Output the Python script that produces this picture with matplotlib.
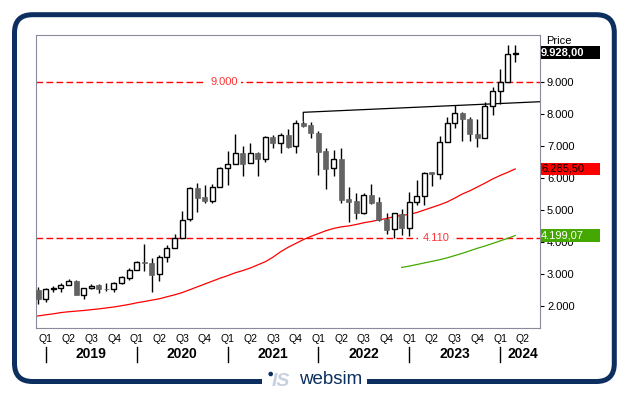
import matplotlib
matplotlib.use('Agg')
import matplotlib.pyplot as plt
from matplotlib import font_manager
from matplotlib.patches import FancyBboxPatch, Rectangle, Circle
from matplotlib.transforms import IdentityTransform, blended_transform_factory
from matplotlib.lines import Line2D

plt.rcParams['font.family'] = ['Liberation Sans', 'DejaVu Sans']
plt.rcParams['lines.scale_dashes'] = False

# ---------------- data (monthly candles, index 0 = Dec 2018) ----------------
opens = [2489, 2218, 2521, 2542, 2636, 2772, 2343, 2542, 2636, 2531,
         2531, 2698, 2876, 3116, 3378, 3346, 2989, 3533, 3795, 4129,
         4704, 5676, 5394, 5289, 5707, 6303, 6428, 6773, 6460, 6773,
         6595, 7275, 7107, 7348, 7003, 7724, 7661, 7400, 6846, 6303,
         6585, 5330, 5278, 4912, 5466, 5240, 4703, 4389, 4860, 4450,
         5258, 5446, 6177, 6114, 7138, 7733, 8026, 7848, 7368, 7242,
         8256, 8726, 9000, 9886]
highs = [2594, 2563, 2615, 2698, 2834, 2803, 2542, 2667, 2667, 2698,
         2730, 2918, 3169, 3399, 3930, 3500, 3574, 3888, 4250, 4965,
         5707, 5843, 5780, 5801, 6334, 6846, 7379, 7003, 7087, 6825,
         7316, 7348, 7400, 7525, 7818, 7797, 7745, 7484, 6950, 6877,
         6950, 5727, 5518, 5518, 5820, 5414, 4912, 4891, 5040, 5550,
         5950, 6177, 6177, 7316, 7900, 8287, 8078, 7921, 7848, 8392,
         8862, 9416, 10168, 10168]
lows = [2061, 2124, 2440, 2437, 2636, 2343, 2218, 2510, 2406, 2458,
        2427, 2667, 2803, 3116, 3100, 2437, 2780, 3376, 3795, 4129,
        4662, 4944, 5226, 5226, 5707, 5794, 6428, 6062, 6460, 6062,
        6501, 6930, 6773, 6930, 6773, 7588, 7264, 6094, 5644, 6062,
        5205, 4609, 4703, 4870, 5190, 4660, 4250, 4110, 4200, 4190,
        5160, 5140, 5740, 5957, 7138, 7556, 7170, 7170, 6981, 7242,
        7974, 8308, 9000, 9625]
closes = [2218, 2521, 2560, 2636, 2772, 2343, 2542, 2625, 2531, 2520,
          2698, 2887, 3116, 3357, 3326, 2960, 3532, 3794, 4108, 4683,
          5676, 5383, 5289, 5707, 6303, 6428, 6773, 6439, 6773, 6606,
          7275, 7107, 7348, 6982, 7714, 7640, 7400, 6825, 6282, 6585,
          5309, 5257, 4912, 5466, 5215, 4682, 4380, 4891, 4430, 5262,
          5446, 6170, 6114, 7138, 7733, 8026, 7838, 7368, 7242, 8256,
          8726, 8998, 9886, 9928]

# red moving average, index -1 .. 63
ma_red_start = -1
ma_red = [1650, 1680, 1715, 1745, 1785, 1810, 1830, 1850, 1875, 1900,
          1930, 1960, 2000, 2040, 2090, 2130, 2175, 2216, 2280, 2340,
          2410, 2500, 2590, 2680, 2770, 2860, 2940, 3030, 3100, 3180,
          3280, 3380, 3520, 3690, 3830, 3950, 4070, 4170, 4260, 4350,
          4420, 4470, 4500, 4545, 4600, 4640, 4690, 4730, 4790, 4830,
          4860, 4920, 5000, 5080, 5160, 5250, 5370, 5500, 5600, 5720,
          5840, 5970, 6080, 6180, 6285.5]
# green moving average, index 48 .. 63
ma_green_start = 48
ma_green = [3200, 3240, 3290, 3340, 3390, 3440, 3500, 3570, 3640, 3720,
            3800, 3870, 3950, 4030, 4110, 4199.07]

level_values = [9000, 4110]
level_texts = ['9.000', '4.110']
level_text_x = [24.5, 52.5]

trend_x = [35, 35, 66.3]
trend_y = [7797, 8060, 8392]

quarter_names = ['Q1', 'Q2', 'Q3', 'Q4']
quarter_first_index = 1          # Jan 2019
n_quarters = 22                  # Q1 2019 .. Q2 2024
years = ['2019', '2020', '2021', '2022', '2023', '2024']

last_values = [9928.00, 6285.50, 4199.07]
last_box_colors = ['#000000', '#ff0000', '#44a800']
last_text_colors = ['#ffffff', '#000000', '#ffffff']

y_ticks = [2000, 3000, 4000, 5000, 6000, 7000, 8000, 9000, 10000]

# ---------------- figure ----------------
W, H = 629, 395
fig = plt.figure(figsize=(W / 100, H / 100), dpi=100)
fig.patch.set_facecolor('white')

def fx(px):
    return px / W

def fy(py):
    return 1 - py / H

ax_left, ax_right, ax_top, ax_bottom = 35.7, 540.0, 34.7, 328.0
ax = fig.add_axes([fx(ax_left), fy(ax_bottom), fx(ax_right - ax_left),
                   (ax_bottom - ax_top) / H])
x_max = 66.27
ax.set_xlim(-0.34, x_max)
ax.set_ylim(1301, 10492)
for s in ax.spines.values():
    s.set_color('#8a8a9c')
    s.set_linewidth(0.8)

navy = '#0d2f60'

# candles
body_w = 0.66
for i, (o, h, l, c) in enumerate(zip(opens, highs, lows, closes)):
    ax.vlines(i, l, h, color='black', lw=1.0, zorder=3)
for i, (o, c) in enumerate(zip(opens, closes)):
    up = c >= o
    bottom = min(o, c)
    height = max(abs(c - o), 12)
    if up:
        ax.bar(i, height, width=body_w, bottom=bottom, facecolor='white',
               edgecolor='black', linewidth=1.0, zorder=4)
    else:
        ax.bar(i, height, width=body_w, bottom=bottom, facecolor='#636363',
               edgecolor='#636363', linewidth=0.5, zorder=4)

# moving averages
ax.plot(range(ma_red_start, ma_red_start + len(ma_red)), ma_red,
        color='#ff0000', lw=0.9, zorder=2)
ax.plot(range(ma_green_start, ma_green_start + len(ma_green)), ma_green,
        color='#44a800', lw=0.9, zorder=2)

# trend line
ax.plot(trend_x, trend_y, color='black', lw=0.9, zorder=2)

# horizontal levels
for v, t, tx in zip(level_values, level_texts, level_text_x):
    ax.axhline(v, color='#ff0000', lw=1.0, dashes=(4.8, 2.4), zorder=1)
    ax.text(tx, v, t, color='#ff3333', fontsize=8, ha='center', va='center',
            zorder=5, bbox=dict(boxstyle='square,pad=0.35', fc='white', ec='none'))

# right axis
ax.yaxis.tick_right()
ax.set_yticks(y_ticks)
ax.set_yticklabels([f"{v:,.0f}".replace(',', '.') for v in y_ticks])
ax.tick_params(axis='y', length=3, width=0.8, pad=2, labelsize=8, colors='black')
ax.set_xticks([])

fig.text(fx(546), fy(41), 'Price', fontsize=8, ha='left', va='center')

# last value boxes
bt = blended_transform_factory(fig.transFigure, ax.transData)
box_h = 12.8 / (ax_bottom - ax_top) * (10492 - 1301)
for v, bc, tc in zip(last_values, last_box_colors, last_text_colors):
    r = Rectangle((fx(540.7), v - box_h / 2), fx(600) - fx(540.7), box_h,
                  transform=bt, facecolor=bc, edgecolor='none', zorder=10,
                  clip_on=False)
    fig.add_artist(r)
    txt = f"{v:,.2f}".replace(',', 'X').replace('.', ',').replace('X', '.')
    fig.text(fx(541), v, txt, transform=bt, color=tc, fontsize=8,
             fontweight='bold' if bc == '#000000' else 'normal',
             ha='left', va='center', zorder=11)

# x-axis labels
xt = blended_transform_factory(ax.transData, fig.transFigure)
for q in range(n_quarters):
    idx = quarter_first_index + 3 * q
    fig.text(idx, fy(339.5), quarter_names[q % 4], transform=xt, fontsize=7.5,
             ha='center', va='center')
for k, y in enumerate(years):
    sep = quarter_first_index + 12 * k
    fig.add_artist(Line2D([sep, sep], [fy(347), fy(362)], transform=xt,
                          color='black', lw=1.0))
    center = (sep + min(sep + 12, x_max + 0.7)) / 2
    fig.text(center, fy(354.5), y, transform=xt, fontsize=10,
             fontweight='bold', ha='center', va='center')

# outer rounded frame
frame = FancyBboxPatch((14.5, H - 381.5), 614.3 - 14.5, 381.5 - 14.7,
                       boxstyle='round,pad=0,rounding_size=18',
                       transform=IdentityTransform(), fill=False,
                       edgecolor=navy, linewidth=3.6, zorder=20)
fig.add_artist(frame)
fig.add_artist(Rectangle((262, H - 387), 105, 10, transform=IdentityTransform(),
                         facecolor='white', edgecolor='none', zorder=21))

# logo
fig.add_artist(Circle((270.7, H - 374), 2.3, transform=IdentityTransform(),
                      facecolor=navy, edgecolor='none', zorder=22))
fig.text(fx(272), fy(381), 'IS', fontsize=14, fontstyle='italic',
         fontweight='bold', color='#c6d0de', ha='left', va='center', zorder=22)
names = {f.name for f in font_manager.fontManager.ttflist}
if 'Liberation Sans Narrow' in names:
    fig.text(fx(299), fy(380), 'websim', fontsize=16,
             family='Liberation Sans Narrow', color=navy, ha='left',
             va='center', zorder=22)
else:
    fig.text(fx(299), fy(380), 'websim', fontsize=13.5, color=navy,
             ha='left', va='center', zorder=22)

fig.savefig('out.png', dpi=100)
